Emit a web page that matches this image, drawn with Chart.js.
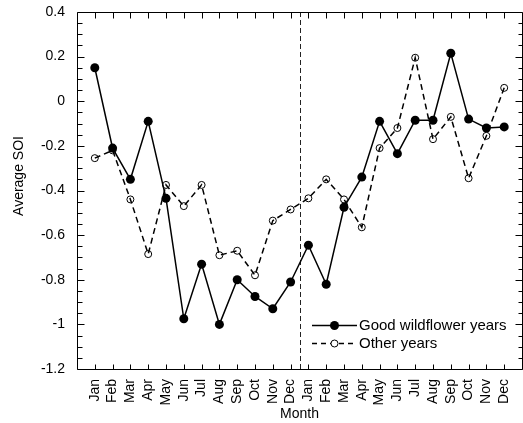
<!DOCTYPE html>
<html>
<head>
<meta charset="utf-8">
<script src="https://cdn.jsdelivr.net/npm/chart.js@4"></script>
<style>
  html, body { margin: 0; padding: 0; overflow: hidden; background: #fff; }
</style>
</head>
<body>
<canvas id="chartSoi" width="527" height="423"></canvas>
<script>
// two years of months, split at the dashed line
var months = ['Jan', 'Feb', 'Mar', 'Apr', 'May', 'Jun', 'Jul', 'Aug', 'Sep', 'Oct', 'Nov', 'Dec',
              'Jan', 'Feb', 'Mar', 'Apr', 'May', 'Jun', 'Jul', 'Aug', 'Sep', 'Oct', 'Nov', 'Dec'];
var goodYears = [0.15, -0.21, -0.35, -0.09, -0.435, -0.975, -0.73, -1.0, -0.80, -0.875, -0.93, -0.81,
                 -0.645, -0.82, -0.475, -0.34, -0.09, -0.235, -0.085, -0.085, 0.215, -0.08, -0.12, -0.115];
var otherYears = [-0.255, -0.22, -0.44, -0.685, -0.375, -0.47, -0.375, -0.69, -0.67, -0.78, -0.535, -0.485,
                  -0.435, -0.35, -0.44, -0.565, -0.21, -0.12, 0.195, -0.17, -0.07, -0.345, -0.155, 0.06];
var yearBreak = 12.5;
var yTitle = 'Average SOI';
var xTitle = 'Month';
var legendLabels = ['Good wildflower years', 'Other years'];

var fontFamily = 'Arial, "Liberation Sans", sans-serif';

function toPoints(values) {
    return values.map(function(v, i) { return {x: i + 1, y: v}; });
}

function isMajor(v) {
    return Math.round(v * 100) % 20 === 0;
}

var framePlugin = {
    id: 'frame',
    beforeDatasetsDraw: function(chart) {
        // dashed line between the two years
        var ctx = chart.ctx, area = chart.chartArea;
        var px = Math.round(chart.scales.x.getPixelForValue(yearBreak)) + 0.5;
        ctx.save();
        ctx.strokeStyle = '#222';
        ctx.lineWidth = 1;
        ctx.setLineDash([5, 3]);
        ctx.beginPath();
        ctx.moveTo(px, area.top);
        ctx.lineTo(px, area.bottom);
        ctx.stroke();
        ctx.restore();
    },
    afterDraw: function(chart) {
        var ctx = chart.ctx, area = chart.chartArea;
        var xs = chart.scales.x, ys = chart.scales.y;
        var l = Math.round(area.left) + 0.5, r = Math.round(area.right) + 0.5;
        var t = Math.round(area.top) + 0.5, b = Math.round(area.bottom) + 0.5;
        ctx.save();
        ctx.setLineDash([]);
        ctx.strokeStyle = '#000';
        ctx.lineWidth = 1;
        ctx.beginPath();
        ctx.rect(l, t, r - l, b - t);
        ctx.stroke();

        // inward tick marks
        ctx.beginPath();
        xs.ticks.forEach(function(tk) {
            if (tk.value < 1 || tk.value > months.length) return;
            var px = Math.round(xs.getPixelForValue(tk.value)) + 0.5;
            ctx.moveTo(px, t); ctx.lineTo(px, t + 6);
            ctx.moveTo(px, b); ctx.lineTo(px, b - 5);
        });
        ys.ticks.forEach(function(tk) {
            var py = Math.round(ys.getPixelForValue(tk.value)) + 0.5;
            var major = isMajor(tk.value);
            ctx.moveTo(l, py); ctx.lineTo(l + (major ? 7 : 5), py);
            ctx.moveTo(r, py); ctx.lineTo(r - (major ? 7 : 4), py);
        });
        ctx.stroke();

        // y title
        ctx.fillStyle = '#000';
        ctx.font = '14px ' + fontFamily;
        ctx.textAlign = 'center';
        ctx.textBaseline = 'middle';
        ctx.translate(19, 176);
        ctx.rotate(-Math.PI / 2);
        ctx.fillText(yTitle, 0, 0);
        ctx.setTransform(1, 0, 0, 1, 0, 0);

        // legend
        var lx0 = 312, lx1 = 357, mx = 334.5, rows = [325.5, 343.5];
        ctx.beginPath();
        ctx.moveTo(lx0, rows[0]); ctx.lineTo(lx1, rows[0]);
        ctx.lineWidth = 1.5;
        ctx.stroke();
        ctx.beginPath();
        ctx.arc(mx, rows[0], 4.5, 0, Math.PI * 2);
        ctx.fill();
        ctx.setLineDash([5, 4]);
        ctx.beginPath();
        ctx.moveTo(lx0, rows[1]); ctx.lineTo(lx1, rows[1]);
        ctx.stroke();
        ctx.setLineDash([]);
        ctx.fillStyle = '#fff';
        ctx.lineWidth = 1;
        ctx.beginPath();
        ctx.arc(mx, rows[1], 3.5, 0, Math.PI * 2);
        ctx.fill();
        ctx.stroke();
        ctx.fillStyle = '#000';
        ctx.font = '15px ' + fontFamily;
        ctx.textAlign = 'left';
        ctx.fillText(legendLabels[0], 359, rows[0]);
        ctx.fillText(legendLabels[1], 359, rows[1]);
        ctx.restore();
    }
};

var ctx = document.getElementById('chartSoi');
var chartSoi = new Chart(ctx, {
    type: 'line',
    data: {
        datasets: [{
            label: legendLabels[0],
            data: toPoints(goodYears),
            borderColor: '#000',
            borderWidth: 1.5,
            pointRadius: 4.5,
            pointBackgroundColor: '#000',
            pointBorderColor: '#000',
            pointBorderWidth: 0
        }, {
            label: legendLabels[1],
            data: toPoints(otherYears),
            borderColor: '#000',
            borderWidth: 1.5,
            borderDash: [6, 4],
            pointRadius: 3.5,
            pointBackgroundColor: 'rgba(255,255,255,0)',
            pointBorderColor: '#000',
            pointBorderWidth: 1
        }]
    },
    options: {
        responsive: false,
        animation: false,
        devicePixelRatio: 1,
        layout: { padding: { top: 12, right: 2, left: 0, bottom: 0 } },
        plugins: {
            legend: { display: false },
            tooltip: { enabled: false }
        },
        scales: {
            x: {
                type: 'linear',
                min: 0,
                max: months.length + 1,
                grid: { display: false, drawTicks: false },
                border: { display: false },
                ticks: {
                    stepSize: 1,
                    autoSkip: false,
                    maxRotation: 90,
                    minRotation: 90,
                    padding: 10,
                    color: '#000',
                    font: { family: fontFamily, size: 14 },
                    callback: function(v) { return months[v - 1] || ''; }
                },
                title: {
                    display: true,
                    text: xTitle,
                    color: '#000',
                    font: { family: fontFamily, size: 14 },
                    padding: { top: 0, bottom: 0 }
                },
                afterFit: function(s) {
                    s.height = 54;
                    s.paddingLeft = 0;
                    s.paddingRight = 0;
                }
            },
            y: {
                min: -1.2,
                max: 0.4,
                grid: { display: false, drawTicks: false },
                border: { display: false },
                ticks: {
                    stepSize: 0.05,
                    maxTicksLimit: 100,
                    autoSkip: false,
                    padding: 12,
                    color: '#000',
                    font: { family: fontFamily, size: 14 },
                    callback: function(v) {
                        return isMajor(v) ? String(Math.round(v * 10) / 10) : '';
                    }
                },
                afterFit: function(s) {
                    s.width = 77;
                    s.paddingTop = 0;
                    s.paddingBottom = 0;
                }
            }
        }
    },
    plugins: [framePlugin]
});
</script>
</body>
</html>
